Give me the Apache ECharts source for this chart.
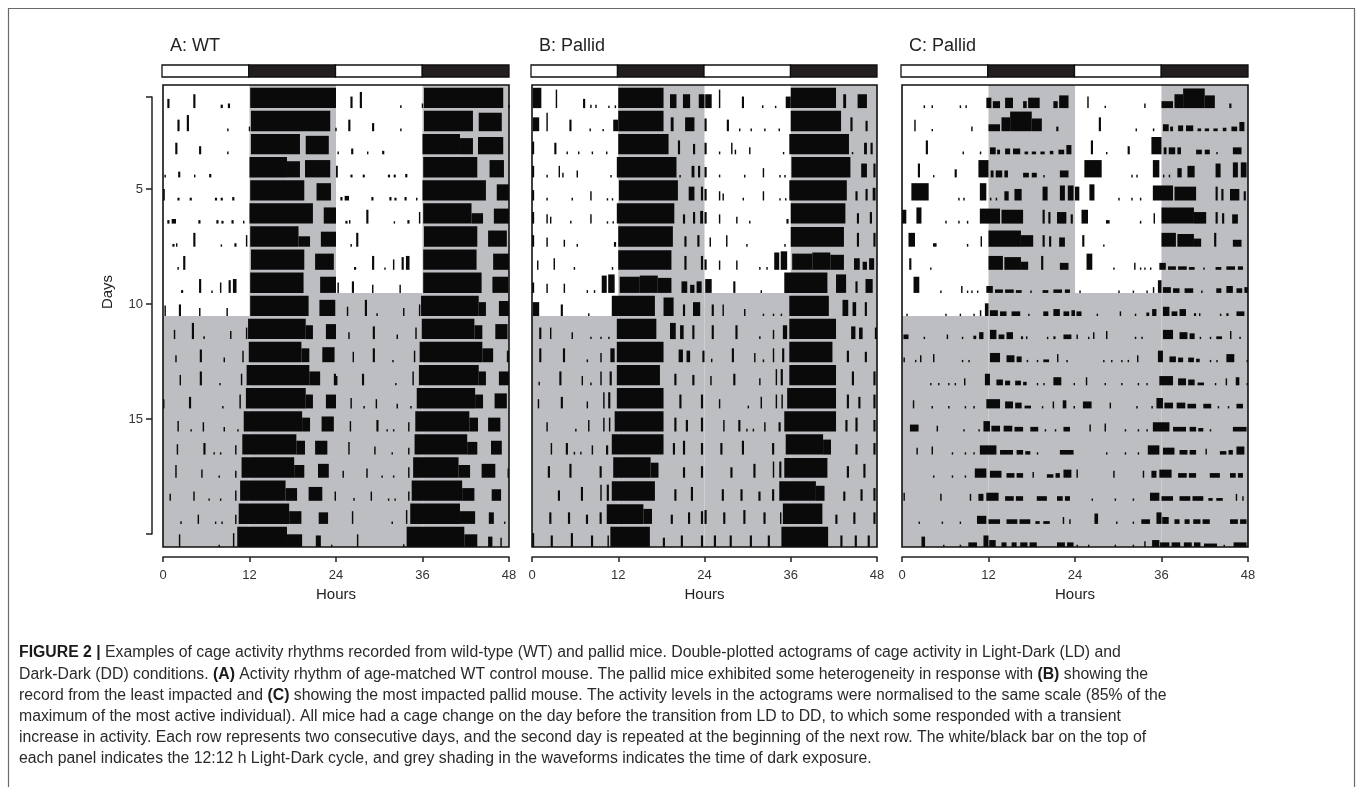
<!DOCTYPE html>
<html>
<head>
<meta charset="utf-8">
<script src="https://cdn.jsdelivr.net/npm/echarts@6/dist/echarts.min.js"></script>
<style>
html,body{margin:0;padding:0;background:#fff;}
#chart{width:1357px;height:787px;}
</style>
</head>
<body>
<div id="chart"></div>
<script>
// ---------------- DATA ----------------
const hourTicks = [0, 12, 24, 36, 48];
const dayTicks = [1, 5, 10, 15, 20];
const dayTickLabels = [5, 10, 15];
const lightDays = 10;               // days 1..10 are Light-Dark, then Dark-Dark
const ldSegments = [[0, 12, 'L'], [12, 24, 'D'], [24, 36, 'L'], [36, 48, 'D']];
const panelTitles = ['A: WT', 'B: Pallid', 'C: Pallid'];

// activity bouts per day: [startHour, endHour, relative height]
const wtDays = [
 [[0.6,0.9,.4],[4.2,4.5,.6],[8.0,8.3,.15],[9.0,9.3,.2],[12.1,24,.88]],
 [[2.0,2.3,.5],[3.3,3.6,.7],[8.9,9.1,.12],[11.9,12.1,.2],[12.2,23.2,.88],[23.9,24,.15]],
 [[1.7,2.0,.5],[5.0,5.3,.35],[8.9,9.1,.12],[12.2,19.0,.88],[19.8,23.0,.8]],
 [[0.2,0.4,.12],[2.1,2.4,.25],[4.3,4.5,.12],[6.4,6.7,.15],[12.0,17.2,.88],[17.2,19.0,.7],[19.7,23.2,.75]],
 [[0.0,0.25,.5],[2.0,2.3,.12],[3.7,4.0,.12],[7.2,7.5,.12],[8.0,8.3,.12],[9.6,9.9,.15],[12.1,19.6,.88],[21.3,23.3,.75]],
 [[0.6,0.9,.15],[1.2,1.8,.2],[4.9,5.2,.15],[7.4,7.7,.15],[8.1,8.4,.12],[9.5,9.8,.15],[11.1,11.3,.12],[12.0,20.8,.88],[22.3,24.0,.7]],
 [[1.3,1.6,.12],[1.8,2.0,.15],[4.2,4.5,.6],[8.0,8.2,.1],[9.9,10.2,.15],[11.5,11.7,.5],[12.1,18.8,.88],[18.8,20.4,.45],[21.9,24.0,.65]],
 [[2.0,2.2,.12],[2.8,3.1,.6],[12.2,19.6,.88],[21.1,23.7,.7]],
 [[2.5,2.8,.12],[5.0,5.3,.6],[6.7,6.9,.1],[7.9,8.1,.45],[9.1,9.4,.55],[9.7,10.2,.6],[12.1,19.5,.88],[21.8,24.0,.7]],
 [[0.2,0.4,.45],[2.2,2.5,.5],[5.0,5.2,.35],[8.8,9.0,.35],[12.1,20.2,.88],[21.7,23.9,.7]],
 [[1.5,1.7,.4],[4.0,4.3,.7],[5.6,5.8,.12],[9.3,9.5,.35],[11.5,11.7,.5],[11.8,19.8,.88],[19.8,20.8,.6],[22.6,24.0,.65]],
 [[1.7,1.9,.3],[5.1,5.4,.55],[8.4,8.6,.2],[11.0,11.2,.5],[11.9,19.2,.88],[19.2,20.3,.6],[22.1,23.8,.65]],
 [[2.3,2.5,.45],[5.1,5.4,.6],[7.8,8.0,.1],[10.8,11.0,.5],[11.6,20.3,.88],[20.3,21.8,.6],[23.7,24.0,.5]],
 [[0.0,0.2,.4],[3.6,3.9,.5],[8.2,8.4,.1],[10.6,10.8,.6],[11.5,19.8,.88],[19.8,20.8,.6],[22.6,24.0,.6]],
 [[2.0,2.2,.45],[3.8,4.0,.1],[5.5,5.7,.4],[8.4,8.6,.2],[10.3,10.5,.1],[11.2,19.3,.88],[19.3,20.4,.6],[22.0,23.7,.65]],
 [[1.9,2.1,.45],[5.6,5.9,.5],[7.0,7.2,.1],[7.9,8.1,.1],[10.0,10.2,.4],[11.0,18.5,.88],[18.5,19.7,.6],[21.1,22.8,.6]],
 [[1.7,1.9,.55],[5.3,5.5,.35],[7.7,7.9,.1],[10.0,10.2,.3],[10.9,18.2,.88],[18.2,19.6,.55],[21.5,23.0,.6]],
 [[0.9,1.1,.3],[4.2,4.4,.4],[6.3,6.5,.1],[7.9,8.1,.1],[10.0,10.2,.45],[10.7,17.0,.88],[17.0,18.6,.55],[20.2,22.1,.6],[23.8,24.0,.4]],
 [[2.4,2.6,.12],[4.8,5.0,.4],[7.2,7.4,.1],[8.1,8.3,.1],[10.0,10.2,.4],[10.5,17.5,.88],[17.5,19.2,.55],[21.6,22.9,.5]],
 [[2.2,2.4,.55],[7.7,7.9,.1],[9.7,9.9,.6],[10.3,17.2,.88],[17.2,19.3,.55],[21.2,21.9,.5],[23.3,23.5,.1]],
 [[2.9,3.1,.55],[9.3,9.5,.12],[9.8,17.8,.88],[17.8,19.6,.55],[21.1,21.7,.45],[22.8,23.0,.4]]
];

const pallidBDays = [
 [[0.1,1.3,.88],[3.3,3.5,.8],[7.1,7.4,.4],[8.1,8.3,.15],[8.8,9.0,.15],[10.6,10.8,.1],[11.5,11.7,.12],[12.0,18.3,.88],[19.2,20.1,.6],[21.0,22.0,.6],[23.2,24.0,.6]],
 [[0.1,1.0,.6],[2.0,2.2,.8],[5.2,5.5,.5],[8.0,8.2,.12],[9.8,10.0,.1],[11.3,12.0,.5],[12.0,18.3,.88],[19.3,19.7,.6],[21.3,22.6,.6]],
 [[0.0,0.3,.55],[3.1,3.4,.5],[4.8,5.0,.12],[6.4,6.6,.12],[8.3,8.5,.12],[10.3,10.5,.12],[12.0,19.0,.88],[20.3,20.6,.6],[22.4,22.7,.45]],
 [[0.0,0.3,.5],[2.0,2.2,.12],[3.7,3.9,.5],[4.2,4.4,.2],[6.2,6.4,.3],[10.9,11.1,.1],[11.8,20.1,.88],[20.5,20.7,.1],[22.2,22.6,.5],[23.1,23.4,.5]],
 [[0.0,0.3,.45],[2.0,2.2,.12],[5.5,5.7,.12],[8.1,8.3,.4],[10.4,10.6,.1],[11.1,11.3,.1],[12.1,20.3,.88],[21.8,22.6,.6],[23.5,23.8,.6]],
 [[0.0,0.3,.5],[2.0,2.2,.4],[2.5,2.7,.3],[5.3,5.5,.12],[8.1,8.3,.4],[10.4,10.6,.1],[11.2,11.4,.1],[11.8,19.8,.88],[21.0,21.3,.4],[22.4,22.7,.5],[23.4,23.8,.55]],
 [[0.0,0.3,.5],[2.0,2.2,.4],[4.4,4.6,.3],[6.2,6.4,.12],[11.4,11.7,.2],[12.0,19.6,.88],[21.2,21.5,.45],[23.0,23.3,.5]],
 [[0.7,0.9,.4],[3.0,3.2,.5],[5.8,6.0,.12],[11.1,11.3,.12],[12.0,19.4,.85],[21.2,21.5,.6],[23.5,23.8,.6]],
 [[0.0,0.3,.45],[2.0,2.2,.4],[4.4,4.6,.4],[7.6,7.8,.12],[8.6,8.8,.12],[9.7,10.4,.75],[10.6,11.5,.8],[12.2,15.0,.7],[15.0,17.5,.75],[17.5,19.4,.65],[20.8,21.6,.5],[22.0,22.6,.35],[22.9,23.6,.5]],
 [[0.1,1.0,.6],[4.0,4.3,.5],[7.8,8.0,.12],[11.1,17.1,.88],[18.3,19.7,.8],[21.0,21.3,.5],[22.4,23.4,.6]],
 [[1.0,1.3,.5],[2.5,2.7,.5],[5.5,5.7,.3],[8.1,8.3,.1],[9.5,9.7,.1],[10.6,10.8,.1],[11.8,17.3,.88],[19.2,20.0,.7],[20.6,21.1,.6],[22.3,22.6,.6]],
 [[1.0,1.3,.6],[4.3,4.6,.6],[7.6,7.8,.12],[9.5,9.7,.4],[10.9,11.5,.6],[11.8,18.3,.88],[20.4,21.0,.55],[21.5,22.0,.5],[23.7,24.0,.5]],
 [[0.9,1.1,.15],[3.8,4.1,.6],[6.9,7.1,.4],[8.1,8.3,.12],[9.5,9.7,.6],[10.8,11.1,.6],[11.8,17.8,.88],[19.8,20.1,.5],[22.3,22.6,.45]],
 [[0.8,1.0,.4],[4.0,4.3,.5],[7.6,7.8,.3],[9.9,10.1,.7],[10.6,10.9,.7],[11.8,18.3,.88],[20.5,20.8,.6],[23.5,23.8,.6]],
 [[2.0,2.2,.4],[6.0,6.2,.12],[7.8,8.0,.5],[9.9,10.1,.6],[10.7,10.9,.6],[11.5,18.3,.88],[19.8,20.1,.6],[21.4,21.7,.5],[23.5,23.8,.6]],
 [[2.6,2.8,.5],[4.7,5.0,.5],[5.8,6.0,.12],[6.7,6.9,.12],[8.3,8.5,.4],[10.3,10.6,.4],[11.1,18.3,.88],[19.6,19.9,.5],[21.0,21.3,.6],[23.5,23.8,.5]],
 [[2.2,2.5,.5],[5.2,5.5,.6],[9.4,9.7,.5],[11.3,16.5,.88],[16.5,17.6,.65],[21.0,21.3,.45],[23.5,23.8,.5]],
 [[3.6,3.9,.45],[6.8,7.1,.6],[9.5,9.7,.7],[10.4,10.7,.7],[11.1,17.1,.85],[19.8,20.1,.5],[22.1,22.4,.6]],
 [[2.4,2.7,.5],[5.0,5.3,.5],[7.5,7.8,.4],[9.4,9.7,.5],[10.4,15.5,.85],[15.5,16.7,.65],[19.3,19.6,.4],[21.7,22.0,.5],[23.5,23.8,.55]],
 [[0.0,0.3,.6],[2.6,2.9,.5],[5.4,5.7,.6],[8.2,8.5,.5],[10.5,10.7,.5],[10.9,16.4,.88],[18.2,18.5,.4],[20.7,21.0,.5],[23.5,23.8,.5]],
 [[1.3,1.6,.5],[3.5,3.8,.5],[6.3,6.6,.5],[8.8,9.1,.5],[10.7,17.2,.88],[18.9,19.2,.5],[20.9,21.2,.5],[22.7,23.0,.5]]
];

const pallidCDays = [
 [[3.0,3.2,.12],[4.1,4.3,.12],[8.0,8.2,.12],[8.8,9.0,.12],[11.7,12.4,.45],[12.6,13.6,.3],[14.3,15.4,.45],[16.8,17.3,.3],[17.5,19.1,.45],[21.0,21.6,.3],[21.8,23.1,.55]],
 [[1.7,1.9,.5],[4.1,4.3,.1],[9.6,9.8,.2],[12.0,13.6,.3],[13.8,15.0,.6],[15.0,18.0,.85],[18.0,19.4,.55],[21.4,21.7,.2]],
 [[3.3,3.6,.6],[8.4,8.6,.12],[10.8,11.0,.12],[12.2,13.0,.3],[13.2,13.6,.2],[14.3,15.0,.25],[15.4,16.4,.25],[17.0,17.5,.12],[18.0,18.6,.12],[19.2,19.8,.12],[20.5,21.0,.15],[21.7,22.5,.2],[22.8,23.5,.4]],
 [[2.2,2.5,.6],[4.3,4.5,.1],[7.3,7.6,.35],[10.6,12.0,.75],[12.3,12.7,.3],[13.0,13.9,.3],[14.2,14.7,.3],[16.8,17.6,.2],[18.0,18.7,.2],[19.6,19.8,.1],[21.9,23.1,.3]],
 [[1.3,3.7,.75],[7.8,8.0,.12],[8.5,8.7,.12],[10.8,11.7,.75],[12.2,12.4,.12],[13.0,13.2,.12],[14.2,14.8,.4],[15.6,16.6,.5],[19.5,20.2,.6],[21.9,22.6,.65],[23.0,23.8,.65]],
 [[0.0,0.6,.6],[2.0,2.7,.7],[6.0,6.2,.12],[7.8,8.0,.12],[9.0,9.2,.12],[10.8,13.6,.65],[13.8,16.8,.6],[19.5,19.8,.6],[20.3,20.6,.5],[21.5,22.8,.5],[23.4,23.7,.4]],
 [[0.9,1.8,.6],[4.3,4.8,.15],[9.0,9.2,.12],[10.9,11.1,.45],[12.0,16.5,.7],[16.5,18.2,.5],[19.5,19.8,.5],[20.4,20.7,.45],[21.8,22.6,.4]],
 [[1.0,1.3,.5],[3.9,4.1,.1],[12.0,14.0,.6],[14.2,16.5,.55],[16.5,17.5,.35],[19.3,19.6,.6],[21.9,23.1,.3]],
 [[1.6,2.4,.7],[5.3,5.5,.1],[8.2,8.4,.3],[9.0,9.2,.1],[9.6,9.8,.1],[10.4,10.6,.1],[11.7,12.6,.3],[12.9,14.0,.15],[14.3,15.5,.15],[15.8,16.6,.12],[17.8,18.0,.1],[19.5,20.3,.12],[21.0,22.2,.15],[22.6,23.3,.15]],
 [[0.6,0.8,.1],[6.0,6.2,.1],[8.0,8.2,.1],[9.9,10.1,.1],[10.8,11.0,.25],[11.5,12.0,.55],[12.2,13.3,.25],[13.6,14.5,.2],[15.2,16.4,.2],[17.5,17.7,.1],[19.6,20.3,.2],[21.0,21.9,.3],[22.4,23.2,.2],[23.5,24.0,.25]],
 [[0.2,0.9,.2],[3.0,3.2,.1],[6.2,6.4,.2],[8.3,8.5,.1],[9.9,10.3,.15],[10.7,11.3,.3],[12.2,13.1,.4],[13.4,14.2,.2],[14.5,15.4,.3],[16.5,16.8,.12],[17.2,17.4,.12],[20.1,20.3,.1],[21.0,21.3,.12],[22.4,23.5,.2]],
 [[0.2,0.4,.2],[1.8,2.0,.1],[2.5,2.7,.3],[4.3,4.5,.35],[8.3,8.5,.1],[9.2,9.4,.1],[12.2,13.6,.4],[14.5,15.6,.3],[15.9,16.6,.25],[17.3,17.5,.1],[18.7,18.9,.1],[19.6,20.4,.12],[21.5,21.7,.35],[22.8,23.0,.1]],
 [[3.9,4.1,.1],[5.0,5.2,.1],[6.4,6.6,.1],[7.3,7.5,.1],[8.6,8.8,.3],[11.5,12.2,.5],[13.1,14.0,.25],[14.3,15.0,.2],[15.7,16.5,.2],[16.8,17.3,.15],[18.7,18.9,.1],[19.6,19.8,.1],[21.0,22.1,.35],[23.8,24.0,.1]],
 [[1.5,1.7,.35],[4.1,4.3,.1],[6.4,6.6,.1],[8.7,8.9,.1],[9.9,10.1,.1],[11.7,13.6,.4],[14.3,15.4,.3],[15.7,16.6,.25],[17.0,17.9,.12],[19.4,19.6,.1],[20.9,21.1,.3],[22.3,22.8,.35],[23.8,24.0,.1]],
 [[1.1,2.3,.3],[4.8,5.0,.25],[8.5,8.7,.1],[10.6,10.8,.1],[11.3,12.2,.45],[12.4,13.6,.25],[14.1,15.3,.25],[15.6,16.8,.2],[17.8,18.9,.2],[19.8,20.0,.1],[21.2,21.4,.1],[22.4,23.3,.2]],
 [[2.0,2.2,.3],[4.1,4.3,.35],[6.9,7.1,.1],[8.7,8.9,.1],[9.9,10.1,.1],[10.8,13.1,.4],[13.6,15.4,.2],[15.9,16.8,.2],[17.1,17.8,.15],[18.7,18.9,.1],[21.9,23.8,.2]],
 [[4.3,4.5,.1],[6.9,7.1,.1],[8.7,8.9,.1],[10.1,11.7,.4],[12.2,13.8,.3],[14.5,15.6,.2],[15.9,16.8,.2],[18.1,18.3,.25],[20.1,21.0,.15],[21.3,21.9,.2],[22.4,23.5,.35]],
 [[0.2,0.4,.35],[5.3,5.5,.3],[9.4,9.6,.3],[10.6,11.3,.3],[11.7,13.4,.35],[14.3,15.5,.2],[15.8,16.8,.2],[18.7,20.1,.2],[21.5,22.3,.2],[22.6,23.3,.2]],
 [[2.3,2.5,.1],[5.5,5.7,.1],[8.0,8.2,.1],[10.4,11.7,.35],[12.0,13.6,.2],[14.5,16.0,.2],[16.3,17.8,.2],[18.5,19.1,.12],[19.6,20.5,.12],[22.3,22.5,.3],[23.2,23.4,.2]],
 [[2.7,3.2,.45],[5.7,5.9,.1],[8.0,8.2,.1],[9.2,10.4,.2],[11.3,12.0,.5],[12.1,13.0,.3],[13.8,14.5,.2],[15.2,15.9,.2],[16.4,17.4,.2],[17.7,18.7,.2],[21.5,22.6,.2],[22.9,23.8,.2]],
 [[0.2,0.4,.1],[1.8,2.0,.1],[5.5,5.7,.1],[8.0,8.2,.1],[9.6,9.8,.25],[10.7,11.7,.3],[11.8,13.1,.2],[13.4,14.6,.2],[15.1,16.2,.2],[16.5,17.4,.2],[17.9,19.7,.15],[20.6,20.8,.1],[22.0,23.8,.2]]
];

const captionLines = [
 '{b|FIGURE 2 |} Examples of cage activity rhythms recorded from wild-type (WT) and pallid mice. Double-plotted actograms of cage activity in Light-Dark (LD) and',
 'Dark-Dark (DD) conditions. {b|(A)} Activity rhythm of age-matched WT control mouse. The pallid mice exhibited some heterogeneity in response with {b|(B)} showing the',
 'record from the least impacted and {b|(C)} showing the most impacted pallid mouse. The activity levels in the actograms were normalised to the same scale (85% of the',
 'maximum of the most active individual). All mice had a cage change on the day before the transition from LD to DD, to which some responded with a transient',
 'increase in activity. Each row represents two consecutive days, and the second day is repeated at the beginning of the next row. The white/black bar on the top of',
 'each panel indicates the 12:12 h Light-Dark cycle, and grey shading in the waveforms indicates the time of dark exposure.'
];

// ---------------- LAYOUT / STYLE ----------------
const FONT = '"Liberation Sans", Arial, Helvetica, sans-serif';
const BAR = '#0a0a0a';
const GREY = '#bdbec1';
const DARK = '#231f20';
const CAPTION_SIZE = 15.8;
const panels = [
  {days: wtDays, left: 163, width: 346},
  {days: pallidBDays, left: 532, width: 345},
  {days: pallidCDays, left: 902, width: 346}
];
const plotTop = 85, plotHeight = 462, nRows = 20;

function rowBouts(days) {
  const out = [];
  for (let r = 1; r <= nRows; r++) {
    days[r - 1].forEach(b => out.push([r, b[0], b[1], b[2]]));
    (days[r] || []).forEach(b => out.push([r, b[0] + 24, b[1] + 24, b[2]]));
  }
  return out;
}
// grey (dark) shading blocks: [x0, x1, rowTop, rowBottom]
const shading = [
  [12, 24, 0, nRows], [36, 48, 0, nRows],
  [0, 12, lightDays, nRows], [24, 36, lightDays - 1, nRows]
];

const grid = [], xAxis = [], yAxis = [], series = [];
panels.forEach((p, i) => {
  grid.push({left: p.left, top: plotTop, width: p.width, height: plotHeight, containLabel: false});
  const gi = grid.length - 1;
  xAxis.push({
    gridIndex: gi, type: 'value', min: 0, max: 48, interval: 12, position: 'bottom', offset: 10,
    axisLine: {show: true, onZero: false, lineStyle: {color: '#222', width: 1.5}},
    axisTick: {show: true, length: 5, lineStyle: {color: '#222', width: 1.5}},
    axisLabel: {show: true, fontSize: 13, color: '#333', margin: 12, fontFamily: FONT},
    splitLine: {show: false},
    name: 'Hours', nameLocation: 'middle', nameGap: 29,
    nameTextStyle: {fontSize: 15, color: '#222', fontFamily: FONT}
  });
  yAxis.push({gridIndex: gi, type: 'value', min: 0, max: nRows, inverse: true, show: false});
  const ai = xAxis.length - 1;
  series.push({
    type: 'custom', xAxisIndex: ai, yAxisIndex: ai, z: 1, clip: false, silent: true,
    data: shading,
    renderItem: (params, api) => {
      const a = api.coord([api.value(0), api.value(2)]);
      const b = api.coord([api.value(1), api.value(3)]);
      return {type: 'rect', shape: {x: a[0], y: a[1], width: b[0] - a[0], height: b[1] - a[1]}, style: {fill: GREY}};
    }
  });
  series.push({
    type: 'custom', xAxisIndex: ai, yAxisIndex: ai, z: 2, clip: false, silent: true,
    data: rowBouts(p.days),
    encode: {x: [1, 2], y: 0},
    renderItem: (params, api) => {
      const r = api.value(0), s = api.value(1), e = api.value(2), h = api.value(3);
      const a = api.coord([s, r]);
      const b = api.coord([e, r - h]);
      return {type: 'rect', shape: {x: a[0], y: b[1], width: Math.max(b[0] - a[0], 1.4), height: a[1] - b[1]}, style: {fill: BAR}};
    }
  });
  series.push({
    type: 'custom', xAxisIndex: ai, yAxisIndex: ai, z: 3, clip: false, silent: true,
    data: [[0, 0, 48, nRows]],
    renderItem: (params, api) => {
      const a = api.coord([api.value(0), api.value(1)]);
      const b = api.coord([api.value(2), api.value(3)]);
      return {type: 'rect', shape: {x: a[0], y: a[1], width: b[0] - a[0], height: b[1] - a[1]},
              style: {fill: 'none', stroke: '#111', lineWidth: 1.6}};
    }
  });
  grid.push({left: p.left - 1, top: 65, width: p.width + 1, height: 12});
  const gj = grid.length - 1;
  xAxis.push({gridIndex: gj, type: 'value', min: 0, max: 48, show: false});
  yAxis.push({gridIndex: gj, type: 'value', min: 0, max: 1, show: false});
  const aj = xAxis.length - 1;
  series.push({
    type: 'custom', xAxisIndex: aj, yAxisIndex: aj, z: 3, clip: false, silent: true,
    data: ldSegments.map(s => [s[0], s[1], s[2] === 'D' ? 1 : 0]),
    renderItem: (params, api) => {
      const a = api.coord([api.value(0), 1]);
      const b = api.coord([api.value(1), 0]);
      return {type: 'rect', shape: {x: a[0], y: a[1], width: b[0] - a[0], height: b[1] - a[1]},
              style: {fill: api.value(2) ? DARK : '#fff', stroke: '#111', lineWidth: 1.3}};
    }
  });
});

// Days axis (only on panel A)
grid.push({left: 152, top: 97, width: 1, height: 437});
const gd = grid.length - 1;
xAxis.push({gridIndex: gd, type: 'value', show: false});
yAxis.push({
  gridIndex: gd, type: 'value', min: 1, max: 20, inverse: true, position: 'left',
  axisLine: {show: true, onZero: false, lineStyle: {color: '#222', width: 1.5}},
  axisTick: {show: true, length: 6, customValues: dayTicks, lineStyle: {color: '#222', width: 1.5}},
  axisLabel: {show: true, customValues: dayTickLabels, fontSize: 13, color: '#333', margin: 9, fontFamily: FONT},
  splitLine: {show: false}
});

const titles = panelTitles.map((t, i) => ({
  text: t, left: panels[i].left + 2, top: 32,
  textStyle: {fontSize: 18, fontWeight: 'normal', color: '#222', fontFamily: FONT}
}));

const captionGraphics = captionLines.map((line, i) => ({
  type: 'text', left: 19, top: 645 + i * 21.2,
  style: {
    text: line, font: CAPTION_SIZE + 'px ' + FONT, fill: '#2a2a2a',
    rich: {b: {fontWeight: 'bold', fontSize: CAPTION_SIZE, fontFamily: FONT, fill: '#1a1a1a'}}
  }
}));

const chart = echarts.init(document.getElementById('chart'), null, {renderer: 'canvas'});
chart.setOption({
  backgroundColor: '#fff',
  animation: false,
  title: titles,
  grid, xAxis, yAxis, series,
  graphic: [
    {type: 'rect', shape: {x: 8.5, y: 8.5, width: 1346, height: 800}, style: {fill: 'none', stroke: '#6a6a6a', lineWidth: 1.2}, z: 100},
    {type: 'text', x: 108, y: 292, rotation: Math.PI / 2,
     style: {text: 'Days', font: '15px ' + FONT, fill: '#222', align: 'center', verticalAlign: 'middle'}},
    ...captionGraphics
  ]
});
</script>
</body>
</html>
